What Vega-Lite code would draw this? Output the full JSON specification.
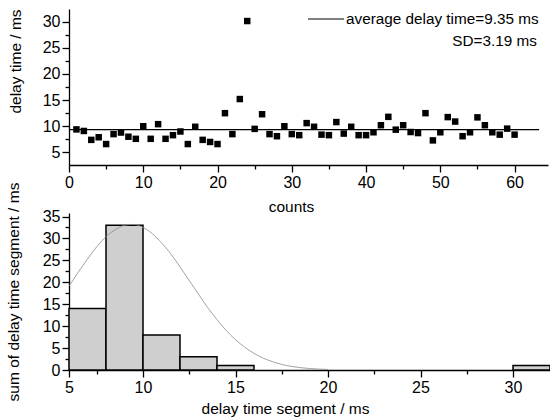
{
  "$schema": "https://vega.github.io/schema/vega-lite/v6.json",
  "padding": {"left": 5, "top": 0, "right": 0, "bottom": 0},
  "bounds": "flush",
  "spacing": 48,
  "config": {
    "font": "Liberation Sans",
    "view": {"stroke": null},
    "axis": {
      "grid": false,
      "domainColor": "black",
      "domainWidth": 1.3,
      "tickColor": "black",
      "tickWidth": 1.3,
      "tickCount": 60,
      "labelColor": "black",
      "labelFontSize": 16,
      "labelPadding": 2,
      "labelOverlap": false,
      "labelFlush": false,
      "titleColor": "black",
      "titleFontSize": 15.5,
      "titleFontWeight": "normal"
    },
    "legend": {
      "labelFontSize": 15.3,
      "labelColor": "black",
      "labelLimit": 0,
      "padding": 0,
      "title": null
    }
  },
  "datasets": {
    "delays": [
      {"count": 1, "delay": 9.4}, {"count": 2, "delay": 9.1}, {"count": 3, "delay": 7.4},
      {"count": 4, "delay": 7.9}, {"count": 5, "delay": 6.6}, {"count": 6, "delay": 8.5},
      {"count": 7, "delay": 8.8}, {"count": 8, "delay": 8.0}, {"count": 9, "delay": 7.6},
      {"count": 10, "delay": 10.0}, {"count": 11, "delay": 7.6}, {"count": 12, "delay": 10.4},
      {"count": 13, "delay": 7.6}, {"count": 14, "delay": 8.3}, {"count": 15, "delay": 9.0},
      {"count": 16, "delay": 6.6}, {"count": 17, "delay": 9.9}, {"count": 18, "delay": 7.4},
      {"count": 19, "delay": 7.0}, {"count": 20, "delay": 6.6}, {"count": 21, "delay": 12.5},
      {"count": 22, "delay": 8.5}, {"count": 23, "delay": 15.2}, {"count": 24, "delay": 30.1},
      {"count": 25, "delay": 9.5}, {"count": 26, "delay": 12.3}, {"count": 27, "delay": 8.5},
      {"count": 28, "delay": 8.1}, {"count": 29, "delay": 10.0}, {"count": 30, "delay": 8.5},
      {"count": 31, "delay": 8.3}, {"count": 32, "delay": 10.6}, {"count": 33, "delay": 9.9},
      {"count": 34, "delay": 8.4}, {"count": 35, "delay": 8.3}, {"count": 36, "delay": 10.8},
      {"count": 37, "delay": 8.6}, {"count": 38, "delay": 9.9}, {"count": 39, "delay": 8.3},
      {"count": 40, "delay": 8.3}, {"count": 41, "delay": 8.85}, {"count": 42, "delay": 10.2},
      {"count": 43, "delay": 11.8}, {"count": 44, "delay": 9.35}, {"count": 45, "delay": 10.2},
      {"count": 46, "delay": 8.9}, {"count": 47, "delay": 8.7}, {"count": 48, "delay": 12.5},
      {"count": 49, "delay": 7.3}, {"count": 50, "delay": 8.85}, {"count": 51, "delay": 11.75},
      {"count": 52, "delay": 10.9}, {"count": 53, "delay": 8.1}, {"count": 54, "delay": 8.85},
      {"count": 55, "delay": 11.7}, {"count": 56, "delay": 10.2}, {"count": 57, "delay": 8.85},
      {"count": 58, "delay": 8.4}, {"count": 59, "delay": 9.55}, {"count": 60, "delay": 8.4}
    ],
    "mean": [
      {"count": 0, "delay": 9.35},
      {"count": 63.3, "delay": 9.35}
    ],
    "hist": [
      {"lo": 6, "hi": 8, "n": 14},
      {"lo": 8, "hi": 10, "n": 33},
      {"lo": 10, "hi": 12, "n": 8},
      {"lo": 12, "hi": 14, "n": 3},
      {"lo": 14, "hi": 16, "n": 1},
      {"lo": 30, "hi": 32, "n": 1}
    ],
    "fit": [
      {"t": 6, "f": 19.1}, {"t": 6.5, "f": 22.3}, {"t": 7, "f": 25.3}, {"t": 7.5, "f": 28.1},
      {"t": 8, "f": 30.4}, {"t": 8.5, "f": 32.0}, {"t": 9, "f": 33.0}, {"t": 9.5, "f": 33.2},
      {"t": 10, "f": 32.5}, {"t": 10.5, "f": 31.1}, {"t": 11, "f": 29.0}, {"t": 11.5, "f": 26.5},
      {"t": 12, "f": 23.5}, {"t": 12.5, "f": 20.4}, {"t": 13, "f": 17.3}, {"t": 13.5, "f": 14.2},
      {"t": 14, "f": 11.5}, {"t": 14.5, "f": 9.0}, {"t": 15, "f": 6.9}, {"t": 15.5, "f": 5.2},
      {"t": 16, "f": 3.8}, {"t": 16.5, "f": 2.7}, {"t": 17, "f": 1.9}, {"t": 17.5, "f": 1.27},
      {"t": 18, "f": 0.84}, {"t": 18.5, "f": 0.54}, {"t": 19, "f": 0.34}, {"t": 19.5, "f": 0.21},
      {"t": 20, "f": 0.13}
    ]
  },
  "vconcat": [
    {
      "width": 479,
      "height": 156,
      "layer": [
        {
          "data": {"name": "mean"},
          "mark": {"type": "line", "strokeWidth": 1.2},
          "encoding": {
            "x": {"field": "count", "type": "quantitative"},
            "y": {"field": "delay", "type": "quantitative"},
            "stroke": {
              "datum": "average delay time=9.35 ms",
              "scale": {"range": ["black"]},
              "legend": {
                "orient": "none",
                "legendX": 238,
                "legendY": -9,
                "symbolType": "stroke",
                "symbolSize": 1296,
                "symbolStrokeWidth": 1.2,
                "symbolStrokeColor": "black",
                "labelOffset": 1
              }
            },
            "opacity": {
              "datum": "SD=3.19 ms",
              "scale": {"range": [1]},
              "legend": {
                "orient": "none",
                "legendX": 368,
                "legendY": 24,
                "symbolSize": 0,
                "symbolStrokeWidth": 0,
                "labelOffset": 0
              }
            }
          }
        },
        {
          "data": {"name": "delays"},
          "mark": {"type": "point", "shape": "square", "filled": true, "color": "black", "size": 42, "opacity": 1},
          "encoding": {
            "x": {
              "field": "count",
              "type": "quantitative",
              "scale": {"domain": [0, 64.5], "nice": false, "zero": false},
              "axis": {
                "title": "counts",
                "values": [0, 5, 10, 15, 20, 25, 30, 35, 40, 45, 50, 55, 60],
                "tickCount": 60,
                "format": "d",
                "labelExpr": "datum.value % 10 == 0 ? datum.label : ''",
                "tickSize": {"condition": {"test": "datum.value % 10 != 0", "value": 4}, "value": 7},
                "titleX": 222,
                "titleY": 41,
                "titleBaseline": "middle"
              }
            },
            "y": {
              "field": "delay",
              "type": "quantitative",
              "scale": {"domain": [2.6, 32.4], "nice": false, "zero": false},
              "axis": {
                "title": "delay time / ms",
                "values": [5, 7.5, 10, 12.5, 15, 17.5, 20, 22.5, 25, 27.5, 30],
                "tickCount": 60,
                "format": "d",
                "labelExpr": "datum.value % 5 == 0 ? datum.label : ''",
                "tickSize": {"condition": {"test": "datum.value % 5 != 0", "value": 4}, "value": 7},
                "titleX": -54,
                "titleY": 52,
                "titleAngle": -90,
                "titleAlign": "center",
                "titleBaseline": "middle"
              }
            }
          }
        }
      ]
    },
    {
      "width": 481,
      "height": 157,
      "layer": [
        {
          "data": {"name": "hist"},
          "mark": {"type": "rect", "fill": "#cfcfcf", "stroke": "black", "strokeWidth": 1.5},
          "encoding": {
            "x": {
              "field": "lo",
              "type": "quantitative",
              "scale": {"domain": [6, 32], "nice": false, "zero": false},
              "axis": {
                "title": "delay time segment / ms",
                "values": [6, 7.5, 10, 12.5, 15, 17.5, 20, 22.5, 25, 27.5, 30],
                "tickCount": 60,
                "format": "d",
                "labelExpr": "datum.value == 6 ? '5' : (datum.value % 5 == 0 ? datum.label : '')",
                "tickSize": {"condition": {"test": "datum.value % 5 != 0 && datum.value != 6", "value": 4}, "value": 7},
                "titleX": 216,
                "titleY": 38,
                "titleBaseline": "middle"
              }
            },
            "x2": {"field": "hi"},
            "y": {
              "field": "n",
              "type": "quantitative",
              "scale": {"domain": [0, 35.8], "nice": false},
              "axis": {
                "title": "sum of delay time segment / ms",
                "values": [0, 2.5, 5, 7.5, 10, 12.5, 15, 17.5, 20, 22.5, 25, 27.5, 30, 32.5, 35],
                "tickCount": 60,
                "format": "d",
                "labelExpr": "datum.value % 5 == 0 ? datum.label : ''",
                "tickSize": {"condition": {"test": "datum.value % 5 != 0", "value": 4}, "value": 7},
                "titleX": -56,
                "titleAngle": -90,
                "titleAlign": "center",
                "titleBaseline": "middle"
              }
            },
            "y2": {"datum": 0}
          }
        },
        {
          "data": {"name": "fit"},
          "mark": {"type": "line", "stroke": "#8a8a8a", "strokeWidth": 0.8, "interpolate": "monotone"},
          "encoding": {
            "x": {"field": "t", "type": "quantitative"},
            "y": {"field": "f", "type": "quantitative"}
          }
        }
      ]
    }
  ]
}
